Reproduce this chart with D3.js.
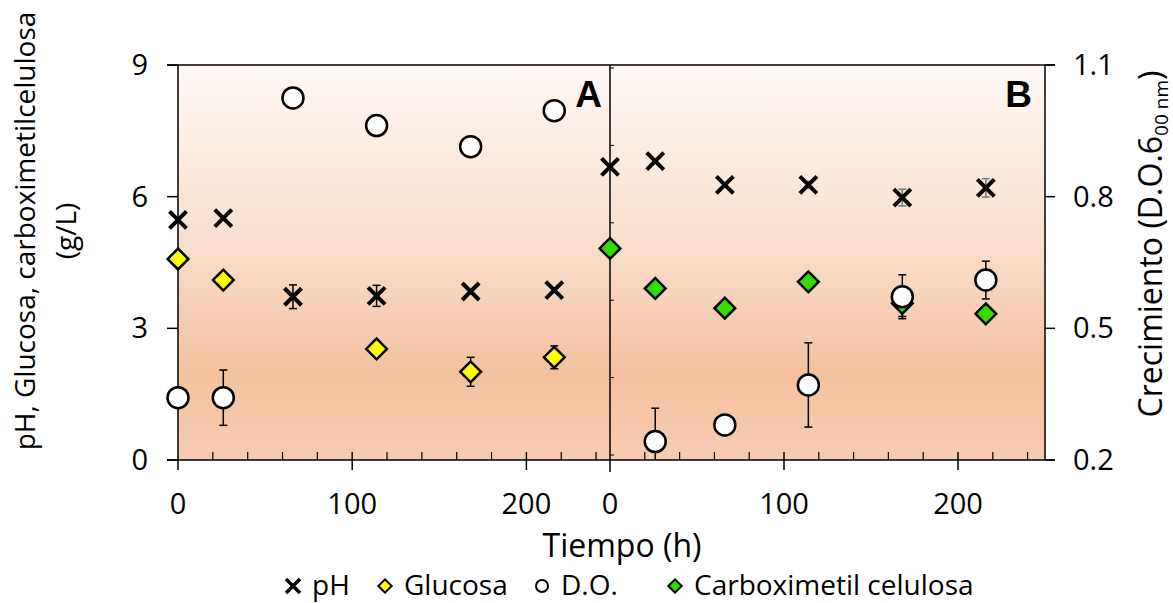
<!DOCTYPE html>
<html>
<head>
<meta charset="utf-8">
<script src="https://cdn.jsdelivr.net/npm/d3@7"></script>
<style>
  body { margin: 0; background: #fff; }
  svg text { font-family: "Open Sans", sans-serif; fill: #000; }
</style>
</head>
<body>
<svg id="chart" width="1173" height="603"></svg>
<script>
// ---- data ----
var timesA = [0, 26, 66, 114, 168, 216];
var phA = [5.47, 5.51, 3.72, 3.74, 3.84, 3.87];
var phAErr = [0, 0, 0.27, 0.24, 0, 0];
var glucosaA = [4.58, 4.10, null, 2.53, 2.01, 2.34];
var glucosaAErr = [0, 0, 0, 0, 0.33, 0.26];
var doA = [0.342, 0.342, 1.025, 0.962, 0.914, 0.996];
var doAErr = [0, 0.063, 0, 0, 0, 0];

var timesB = [0, 26, 66, 114, 168, 216];
var phB = [6.68, 6.81, 6.27, 6.27, 5.98, 6.20];
var phBErr = [0, 0, 0, 0.08, 0.19, 0.21];
var cmcB = [4.82, 3.91, 3.46, 4.06, 3.57, 3.33];
var cmcBErr = [0, 0, 0, 0, 0.3, 0];
var doB = [null, 0.242, 0.28, 0.371, 0.572, 0.61];
var doBErr = [0, 0.076, 0, 0.096, 0.05, 0.043];

var xTicks = [0, 100, 200];
var leftTicks = [0, 3, 6, 9];
var rightTicks = [0.2, 0.5, 0.8, 1.1];
var legendLabels = ["pH", "Glucosa", "D.O.", "Carboximetil celulosa"];

// ---- layout ----
var pTop = 65, pBottom = 460, pLeft = 178, pMid = 610, pRight = 1045;

var svg = d3.select("#chart");

var xA = d3.scaleLinear().domain([0, 250]).range([pLeft, pLeft + (pMid - pLeft) * 250 / 248]);
var xB = d3.scaleLinear().domain([0, 250]).range([pMid, pRight]);
var yL = d3.scaleLinear().domain([0, 9]).range([pBottom, pTop]);
var yR = d3.scaleLinear().domain([0.2, 1.1]).range([pBottom, pTop]);

/*****************  Background gradient **********************/
var defs = svg.append("defs");
var grad = defs.append("linearGradient")
    .attr("id", "bg")
    .attr("x1", 0).attr("y1", 0).attr("x2", 0).attr("y2", 1);
grad.append("stop").attr("offset", "0%").attr("stop-color", "#fef8f5");
grad.append("stop").attr("offset", "45%").attr("stop-color", "#f9dfcd");
grad.append("stop").attr("offset", "78%").attr("stop-color", "#f4c19e");
grad.append("stop").attr("offset", "100%").attr("stop-color", "#f7ccb2");

defs.append("clipPath").attr("id", "plotclip")
    .append("rect")
    .attr("x", pLeft).attr("y", pTop)
    .attr("width", pRight - pLeft).attr("height", pBottom - pTop);

svg.append("rect")
    .attr("x", pLeft).attr("y", pTop)
    .attr("width", pRight - pLeft).attr("height", pBottom - pTop)
    .attr("fill", "url(#bg)");

/*****************  Frame & axes **********************/
var frame = svg.append("g").attr("stroke", "#000").attr("stroke-width", 1.5).attr("fill", "none");
frame.append("line").attr("x1", pLeft - 11).attr("x2", pRight + 10).attr("y1", pTop).attr("y2", pTop);
frame.append("line").attr("x1", pLeft - 11).attr("x2", pRight + 10).attr("y1", pBottom).attr("y2", pBottom);
frame.append("line").attr("x1", pLeft).attr("x2", pLeft).attr("y1", pTop).attr("y2", pBottom + 10);
frame.append("line").attr("x1", pRight).attr("x2", pRight).attr("y1", pTop).attr("y2", pBottom);
frame.append("line").attr("x1", pMid).attr("x2", pMid).attr("y1", pTop).attr("y2", pBottom + 12);

// left ticks
frame.selectAll(".ltick").data(leftTicks).enter().append("line")
    .attr("x1", pLeft - 11).attr("x2", pLeft)
    .attr("y1", function (d) { return yL(d); })
    .attr("y2", function (d) { return yL(d); });
// right ticks
frame.selectAll(".rtick").data(rightTicks).enter().append("line")
    .attr("x1", pRight).attr("x2", pRight + 10)
    .attr("y1", function (d) { return yR(d); })
    .attr("y2", function (d) { return yR(d); });

// small ticks along the divider
var yDiv = d3.scaleLinear().domain([0, 5]).range([pBottom - 5, pTop + 3]);
frame.selectAll(".dtick").data(d3.range(0, 6)).enter().append("line")
    .attr("stroke-width", 1)
    .attr("x1", pMid).attr("x2", pMid + 4)
    .attr("y1", function (d) { return yDiv(d); })
    .attr("y2", function (d) { return yDiv(d); });

// x ticks for both panels
function xTickMarks(scale, maxT) {
    var minor = d3.range(20, maxT, 20).filter(function (d) { return d % 100 !== 0; });
    frame.append("g").selectAll("line").data(minor).enter().append("line")
        .attr("stroke-width", 1.2)
        .attr("x1", function (d) { return scale(d); })
        .attr("x2", function (d) { return scale(d); })
        .attr("y1", pBottom - 8).attr("y2", pBottom);
    frame.append("g").selectAll("line").data([100, 200]).enter().append("line")
        .attr("x1", function (d) { return scale(d); })
        .attr("x2", function (d) { return scale(d); })
        .attr("y1", pBottom - 8).attr("y2", pBottom + 10);
}
xTickMarks(xA, 248);
xTickMarks(xB, 250);

/*****************  Tick labels **********************/
var labels = svg.append("g").attr("font-size", "29px");
labels.selectAll(".ll").data(leftTicks).enter().append("text")
    .attr("x", pLeft - 30).attr("y", function (d) { return yL(d) + 10; })
    .attr("text-anchor", "end")
    .text(function (d) { return d; });
labels.selectAll(".rl").data(rightTicks).enter().append("text")
    .attr("x", pRight + 28).attr("y", function (d) { return yR(d) + 10; })
    .attr("text-anchor", "start")
    .text(function (d) { return d3.format(".1f")(d); });
[xA, xB].forEach(function (scale) {
    labels.append("g").selectAll("text").data(xTicks).enter().append("text")
        .attr("x", function (d) { return scale(d); })
        .attr("y", 514)
        .attr("text-anchor", "middle")
        .text(function (d) { return d; });
});

/*****************  Axis titles **********************/
svg.append("text")
    .attr("x", 622).attr("y", 557)
    .attr("text-anchor", "middle")
    .attr("font-size", "32px")
    .text("Tiempo (h)");

var lt = svg.append("text")
    .attr("transform", "translate(35,231) rotate(-90)")
    .attr("text-anchor", "middle")
    .attr("font-size", "28px");
lt.append("tspan").attr("x", 0).attr("y", 0).text("pH, Glucosa, carboximetilcelulosa");
lt.append("tspan").attr("x", 0).attr("y", 41).text("(g/L)");

var rt = svg.append("text")
    .attr("transform", "translate(1162,244) rotate(-90)")
    .attr("text-anchor", "middle")
    .attr("font-size", "32px");
rt.append("tspan").text("Crecimiento (D.O.6");
rt.append("tspan").attr("font-size", "19px").attr("dy", 6).text("00 nm");
rt.append("tspan").attr("dy", -6).text(")");

/*****************  Panel letters **********************/
svg.append("text").attr("x", 602).attr("y", 107).attr("text-anchor", "end")
    .style("font-family", "'Liberation Sans', Arial, sans-serif")
    .attr("font-weight", "bold").attr("font-size", "37px").text("A");
svg.append("text").attr("x", 1032).attr("y", 107).attr("text-anchor", "end")
    .style("font-family", "'Liberation Sans', Arial, sans-serif")
    .attr("font-weight", "bold").attr("font-size", "37px").text("B");

/*****************  Points **********************/
function series(times, vals, errs, xs, ys) {
    return times.map(function (t, i) {
        return { x: xs(t), v: vals[i], e: errs[i], ys: ys };
    }).filter(function (d) { return d.v !== null; });
}

var sPhA = series(timesA, phA, phAErr, xA, yL);
var sGluA = series(timesA, glucosaA, glucosaAErr, xA, yL);
var sDoA = series(timesA, doA, doAErr, xA, yR);
var sPhB = series(timesB, phB, phBErr, xB, yL);
var sCmcB = series(timesB, cmcB, cmcBErr, xB, yL);
var sDoB = series(timesB, doB, doBErr, xB, yR);

var plot = svg.append("g").attr("clip-path", "url(#plotclip)");

function errorBars(data, color) {
    var g = plot.append("g").attr("stroke", color).attr("stroke-width", 1.5);
    data.filter(function (d) { return d.e > 0; }).forEach(function (d) {
        var y1 = d.ys(d.v - d.e), y2 = d.ys(d.v + d.e);
        g.append("line").attr("x1", d.x).attr("x2", d.x).attr("y1", y1).attr("y2", y2);
        g.append("line").attr("x1", d.x - 4).attr("x2", d.x + 4).attr("y1", y1).attr("y2", y1);
        g.append("line").attr("x1", d.x - 4).attr("x2", d.x + 4).attr("y1", y2).attr("y2", y2);
    });
}
errorBars(sPhA, "#000");
errorBars(sGluA, "#000");
errorBars(sDoA, "#000");
errorBars(sPhB, "#777");
errorBars(sCmcB, "#000");
errorBars(sDoB, "#000");

var diamond = d3.symbol().type(d3.symbolSquare).size(215);

function diamonds(data, fill) {
    svg.append("g").selectAll("path").data(data).enter().append("path")
        .attr("d", diamond)
        .attr("transform", function (d) { return "translate(" + d.x + "," + d.ys(d.v) + ") rotate(45)"; })
        .attr("fill", fill).attr("stroke", "#000").attr("stroke-width", 2.5);
}
function circles(data) {
    svg.append("g").selectAll("circle").data(data).enter().append("circle")
        .attr("cx", function (d) { return d.x; })
        .attr("cy", function (d) { return d.ys(d.v); })
        .attr("r", 10.5)
        .attr("fill", "#fff").attr("stroke", "#000").attr("stroke-width", 2.5);
}
function crosses(data) {
    var s = 8.5;
    svg.append("g").selectAll("path").data(data).enter().append("path")
        .attr("d", function (d) {
            var x = d.x, y = d.ys(d.v);
            return "M" + (x - s) + "," + (y - s) + "L" + (x + s) + "," + (y + s) +
                "M" + (x - s) + "," + (y + s) + "L" + (x + s) + "," + (y - s);
        })
        .attr("stroke", "#000").attr("stroke-width", 4).attr("fill", "none");
}

diamonds(sGluA, "#ffff00");
diamonds(sCmcB, "#33dd00");
circles(sDoA);
circles(sDoB);
crosses(sPhA);
crosses(sPhB);

/*****************  Legend **********************/
var legendX = [293, 385, 542, 675];
var legendY = 586;
var legend = svg.append("g");
legend.selectAll("text").data(legendLabels).enter().append("text")
    .attr("x", function (d, i) { return legendX[i] + 19; })
    .attr("y", legendY + 9)
    .attr("font-size", "28px")
    .text(function (d) { return d; });

var lg = legend.append("g").attr("stroke", "#000");
lg.append("path")
    .attr("d", "M" + (legendX[0] - 7) + "," + (legendY - 7) + "L" + (legendX[0] + 7) + "," + (legendY + 7) +
        "M" + (legendX[0] - 7) + "," + (legendY + 7) + "L" + (legendX[0] + 7) + "," + (legendY - 7))
    .attr("stroke-width", 3.5);
lg.append("path").attr("d", d3.symbol().type(d3.symbolSquare).size(90))
    .attr("transform", "translate(" + legendX[1] + "," + legendY + ") rotate(45)")
    .attr("fill", "#ffff00").attr("stroke-width", 2);
lg.append("circle").attr("cx", legendX[2]).attr("cy", legendY).attr("r", 6)
    .attr("fill", "#fff").attr("stroke-width", 2);
lg.append("path").attr("d", d3.symbol().type(d3.symbolSquare).size(90))
    .attr("transform", "translate(" + legendX[3] + "," + legendY + ") rotate(45)")
    .attr("fill", "#33dd00").attr("stroke-width", 2);
</script>
</body>
</html>
